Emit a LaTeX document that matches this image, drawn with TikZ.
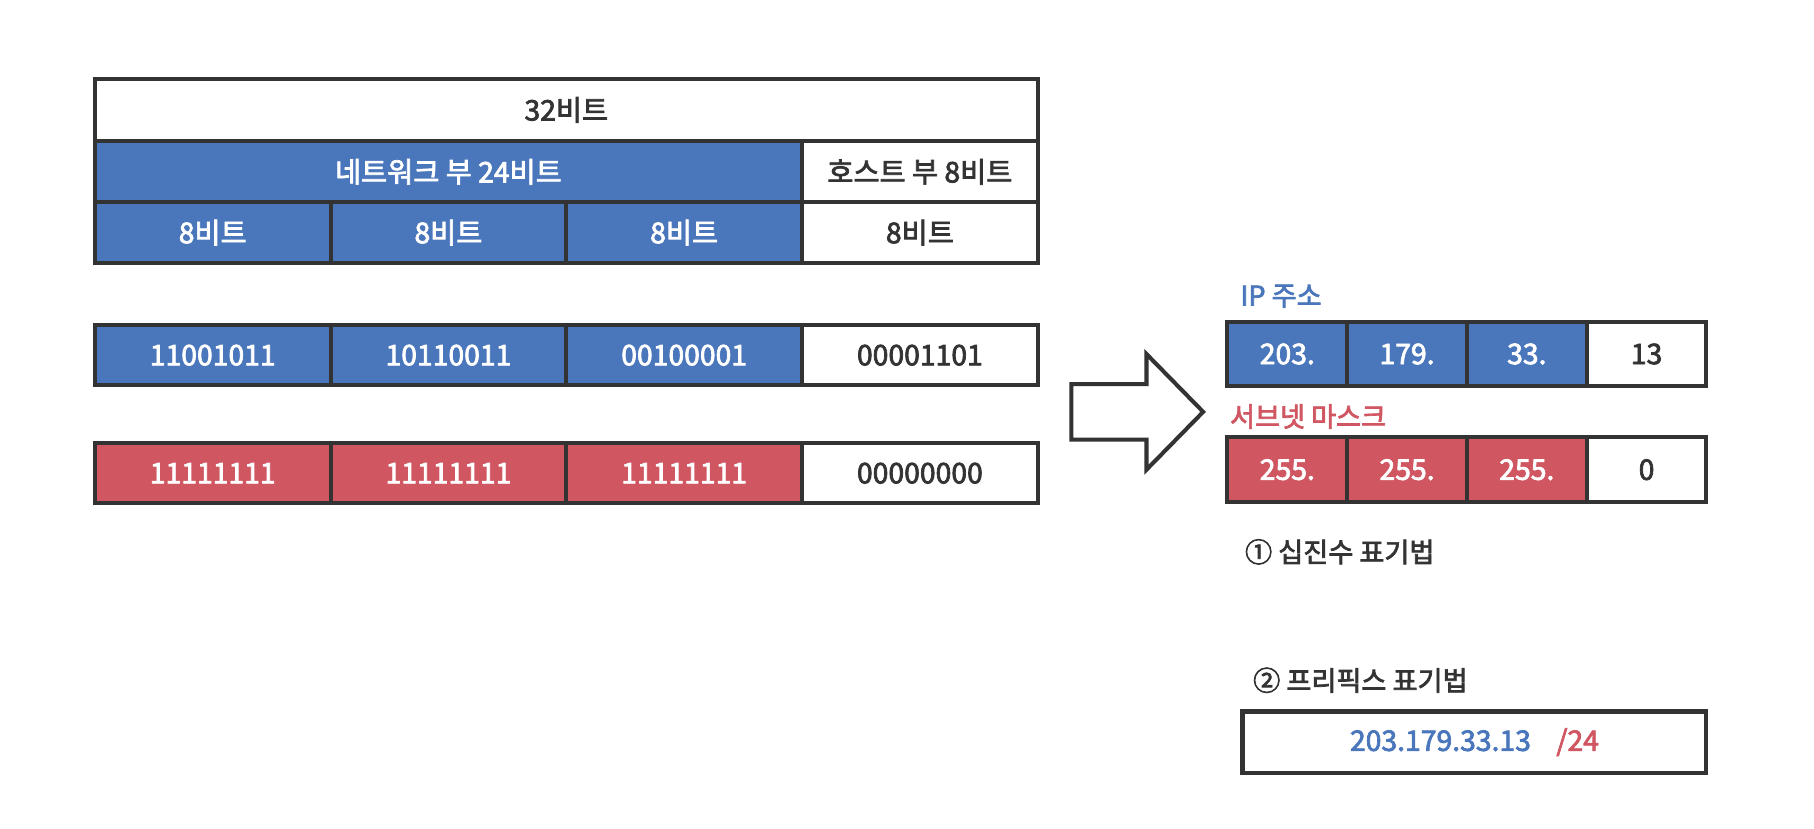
\documentclass[tikz,border=0pt]{standalone}
\usepackage{fontspec}
\setmainfont{Noto Sans CJK KR}
\newfontfamily\cellfont{Noto Sans CJK KR}[FakeBold=2.6]
\usetikzlibrary{positioning}
\definecolor{netblue}{HTML}{4A76BB}
\definecolor{maskred}{HTML}{D05762}
\definecolor{edgegray}{HTML}{333333}

\begin{document}
\begin{tikzpicture}[x=1pt,y=-1pt,node distance=0pt,
		cell/.style={draw=edgegray,line width=3.5pt,outer sep=0pt,inner sep=0pt,
			minimum height=53pt,minimum width=203.75pt,fill=white,text=edgegray,
			font=\cellfont\fontsize{24.5}{28}\selectfont},
		netcell/.style={cell,fill=netblue,text=white},
		maskcell/.style={cell,fill=maskred,text=white},
		dec/.style={cell,minimum width=103.5pt,minimum height=56pt},
		lab/.style={inner sep=0pt,anchor=west,font=\cellfont\fontsize{23.5}{27}\selectfont}]
	\useasboundingbox (0,0) rectangle (1568,716);
	% bit layout
	\node[cell,anchor=north west,minimum width=815pt,minimum height=54pt] (t32) at (82,68) {32비트};
	\node[netcell,anchor=north west,minimum width=611.25pt] (tnet) at (t32.south west) {네트워크 부 24비트};
	\node[cell] (thost) [right=of tnet] {호스트 부 8비트};
	\node[netcell,anchor=north west,minimum height=52pt] (b1) at (tnet.south west) {8비트};
	\node[netcell,minimum height=52pt] (b2) [right=of b1] {8비트};
	\node[netcell,minimum height=52pt] (b3) [right=of b2] {8비트};
	\node[cell,minimum height=52pt] (b4) [right=of b3] {8비트};
	% address in binary
	\node[netcell,anchor=north west,minimum height=52pt] (a1) at (82,281) {11001011};
	\node[netcell,minimum height=52pt] (a2) [right=of a1] {10110011};
	\node[netcell,minimum height=52pt] (a3) [right=of a2] {00100001};
	\node[cell,minimum height=52pt] (a4) [right=of a3] {00001101};
	% mask in binary
	\node[maskcell,anchor=north west,minimum height=52pt] (m1) at (82,383) {11111111};
	\node[maskcell,minimum height=52pt] (m2) [right=of m1] {11111111};
	\node[maskcell,minimum height=52pt] (m3) [right=of m2] {11111111};
	\node[cell,minimum height=52pt] (m4) [right=of m3] {00000000};
	% big arrow
	\draw[draw=edgegray,line width=3.5pt,fill=white]
		(926,332) -- (991,332) -- (991,306) -- (1040,356) -- (991,406) -- (991,380) -- (926,380) -- cycle;
	% decimal notation
	\node[lab,text=netblue] (iplab) at (1072,256) {IP 주소};
	\node[dec,netcell,minimum width=103.5pt,minimum height=56pt,anchor=north west] (ip1) at (1061,278) {203.};
	\node[dec,netcell,minimum width=103.5pt,minimum height=56pt] (ip2) [right=of ip1] {179.};
	\node[dec,netcell,minimum width=103.5pt,minimum height=56pt] (ip3) [right=of ip2] {33.};
	\node[dec] (ip4) [right=of ip3] {13};
	\node[lab,text=maskred] (smlab) at (1063,360) {서브넷 마스크};
	\node[dec,maskcell,minimum width=103.5pt,minimum height=56pt,anchor=north west] (sm1) at (1061,378) {255.};
	\node[dec,maskcell,minimum width=103.5pt,minimum height=56pt] (sm2) [right=of sm1] {255.};
	\node[dec,maskcell,minimum width=103.5pt,minimum height=56pt] (sm3) [right=of sm2] {255.};
	\node[dec] (sm4) [right=of sm3] {0};
	\node[lab,text=edgegray] (declab) at (1076,477) {① 십진수 표기법};
	% prefix notation
	\node[lab,text=edgegray] (pfxlab) at (1083,588) {② 프리픽스 표기법};
	\node[cell,anchor=north west,minimum width=401pt,minimum height=53pt] (pfx) at (1074,615)
		{\textcolor{netblue}{203.179.33.13}\hspace{22pt}\textcolor{maskred}{/24}};
\end{tikzpicture}
\end{document}
